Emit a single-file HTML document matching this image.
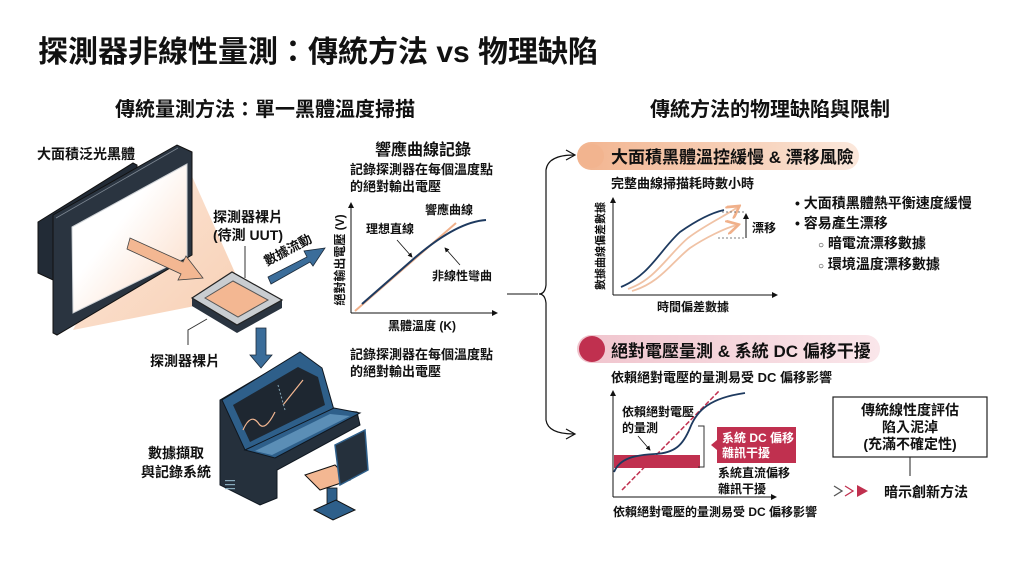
<!DOCTYPE html>
<html><head><meta charset="utf-8"><style>
html,body{margin:0;padding:0;background:#fff;}
body{width:1024px;height:559px;overflow:hidden;}
svg text{font-family:"Liberation Sans","Noto Sans CJK TC",sans-serif;fill:#111;}
</style></head><body>
<svg width="1024" height="559" viewBox="0 0 1024 559" xmlns="http://www.w3.org/2000/svg">
<defs>
<linearGradient id="beam" x1="0" y1="0" x2="1" y2="1">
<stop offset="0" stop-color="#fbe3d2"/><stop offset="1" stop-color="#f6c4a2"/></linearGradient>
<linearGradient id="scr" x1="0" y1="0" x2="1" y2="1">
<stop offset="0.4" stop-color="#ffffff"/><stop offset="1" stop-color="#fbd9c3"/></linearGradient>
<linearGradient id="p1" x1="0" x2="1"><stop offset="0" stop-color="#f2b48f"/><stop offset="0.7" stop-color="#f8d7c2"/><stop offset="1" stop-color="#fbe8dc"/></linearGradient>
<linearGradient id="p2" x1="0" x2="1"><stop offset="0" stop-color="#f0c4cd"/><stop offset="1" stop-color="#fae6ea"/></linearGradient>
<marker id="ahs" markerWidth="6" markerHeight="6" refX="5" refY="3" orient="auto"><path d="M0,0 L6,3 L0,6 z" fill="#111"/></marker>
<marker id="aho" markerWidth="8" markerHeight="8" refX="6" refY="4" orient="auto"><path d="M0,0 L7,4 L0,8" fill="none" stroke="#f0b08a" stroke-width="1.5"/></marker>
</defs>

<text x="38" y="62" font-size="30" font-weight="bold">探測器非線性量測：傳統方法 vs 物理缺陷</text>
<text x="265" y="116" font-size="20" font-weight="bold" text-anchor="middle">傳統量測方法：單一黑體溫度掃描</text>
<text x="770" y="116" font-size="20" font-weight="bold" text-anchor="middle">傳統方法的物理缺陷與限制</text>

<!-- blackbody -->
<text x="37" y="159" font-size="14" font-weight="bold">大面積泛光黑體</text>
<polygon points="150,180 187,165 236,275 200,305 73,330" fill="url(#beam)" opacity="0.8"/>
<polygon points="38,222 133,163 137,165 137,190 53,240 53,280 38,273" fill="#222b36" stroke="#111"/>
<polygon points="53,215 177,145 192,152 192,255 57,335 53,333" fill="#2a3440" stroke="#111" stroke-width="1"/>
<line x1="56" y1="218" x2="178" y2="148" stroke="#7d8792" stroke-width="0.8"/>
<polygon points="72,227 187,164 187,257 73,313" fill="url(#scr)" stroke="#cfd3d7" stroke-width="1"/>
<polygon points="130,238 183,262 186,256 203,278 178,280 181,274 127,249" fill="#f3b792" stroke="#444" stroke-width="0.8"/>
<!-- chip -->
<polygon points="192,298 232,272 282,300 282,308 237,333 192,306" fill="#2a3440"/>
<polygon points="192,298 232,272 282,300 237,325" fill="#c9cdd1" stroke="#222" stroke-width="1.2"/>
<polygon points="205,298 233,281 268,300 238,317" fill="#f3b792" stroke="#555" stroke-width="1"/>
<text x="213" y="222" font-size="14" font-weight="bold">探測器裸片</text>
<text x="213" y="240" font-size="14" font-weight="bold">(待測 UUT)</text>
<line x1="245" y1="246" x2="245" y2="278" stroke="#333" stroke-width="1"/>
<polyline points="188,345 188,330 207,319" fill="none" stroke="#333" stroke-width="1"/>
<text x="150" y="366" font-size="14" font-weight="bold">探測器裸片</text>
<!-- data flow arrow -->
<polygon points="268,277 307,257 304,251 325,248 313,266 310,262 271,284" fill="#3b6d9a" stroke="#1b2a3a" stroke-width="0.8"/>
<text x="0" y="0" font-size="13" font-weight="bold" transform="translate(267,266) rotate(-28)">數據流動</text>
<polygon points="256,328 266,328 266,355 272,355 261,368 250,355 256,355" fill="#3b6d9a" stroke="#1b2a3a" stroke-width="0.8"/>
<!-- console -->
<polygon points="220,400 300,353 322,370 333,410 357,412 360,425 277,470 277,498 260,505 220,485" fill="#25303c" stroke="#0f1720" stroke-width="1"/>
<polygon points="222,400 300,352 322,368 334,410 245,450" fill="#2e5f8a" stroke="#0f1720" stroke-width="1"/>
<polygon points="233,405 298,367 318,377 325,405 250,442" fill="#1e2731"/>
<path d="M243,430 q8,-18 16,-6 q6,8 16,-12" fill="none" stroke="#f3b792" stroke-width="1.2"/>
<path d="M283,405 l20,-25" fill="none" stroke="#f3b792" stroke-width="1.2"/>
<line x1="278" y1="385" x2="285" y2="410" stroke="#8ab" stroke-width="1" stroke-dasharray="2,2"/>
<polygon points="245,450 334,408 360,413 275,458" fill="#2e5f8a" stroke="#0f1720" stroke-width="1"/>
<polygon points="255,451 330,414 350,416 272,455" fill="#6fa3c9" opacity="0.7"/>
<rect x="225" y="480" width="10" height="1.2" fill="#8ab"/><rect x="225" y="484" width="10" height="1.2" fill="#8ab"/><rect x="225" y="488" width="10" height="1.2" fill="#8ab"/>
<polygon points="305,475 335,465 350,480 320,490" fill="#f3b792" stroke="#111" stroke-width="1"/>
<polygon points="335,445 365,430 368,470 340,485" fill="#25303c" stroke="#2e5f8a" stroke-width="1.5"/>
<rect x="327" y="488" width="10" height="22" fill="#2e5f8a" stroke="#111" stroke-width="0.8"/>
<polygon points="314,510 336,500 355,510 333,520" fill="#2e5f8a" stroke="#111" stroke-width="1"/>
<text x="176" y="458" font-size="14" font-weight="bold" text-anchor="middle">數據擷取</text>
<text x="176" y="477" font-size="14" font-weight="bold" text-anchor="middle">與記錄系統</text>

<!-- response graph -->
<text x="423" y="155" font-size="16" font-weight="bold" text-anchor="middle">響應曲線記錄</text>
<text x="350" y="174" font-size="13" font-weight="bold">記錄探測器在每個溫度點</text>
<text x="350" y="191" font-size="13" font-weight="bold">的絕對輸出電壓</text>
<line x1="351" y1="313" x2="351" y2="203" stroke="#111" stroke-width="1" marker-end="url(#ahs)"/>
<line x1="351" y1="313" x2="497" y2="313" stroke="#111" stroke-width="1" marker-end="url(#ahs)"/>
<line x1="355" y1="311" x2="456" y2="223" stroke="#f0b08a" stroke-width="2"/>
<path d="M362,304 L410,262 Q455,222 486,220" fill="none" stroke="#1e3a5f" stroke-width="2"/>
<text x="425" y="214" font-size="12" font-weight="bold">響應曲線</text>
<text x="366" y="233" font-size="12" font-weight="bold">理想直線</text>
<line x1="397" y1="240" x2="412" y2="257" stroke="#111" stroke-width="0.8" marker-end="url(#ahs)"/>
<text x="432" y="280" font-size="12" font-weight="bold">非線性彎曲</text>
<line x1="460" y1="265" x2="445" y2="248" stroke="#111" stroke-width="0.8" marker-end="url(#ahs)"/>
<text x="0" y="0" font-size="12" font-weight="bold" text-anchor="middle" transform="translate(344,260) rotate(-90)">絕對輸出電壓 (V)</text>
<text x="422" y="330" font-size="12" font-weight="bold" text-anchor="middle">黑體溫度 (K)</text>
<text x="350" y="359" font-size="13" font-weight="bold">記錄探測器在每個溫度點</text>
<text x="350" y="376" font-size="13" font-weight="bold">的絕對輸出電壓</text>

<!-- brace -->
<line x1="507" y1="294" x2="538" y2="294" stroke="#111" stroke-width="1"/>
<path d="M574,155 Q548,155 546,170 L546,285 Q545,294 539,294 Q545,294 546,303 L546,420 Q548,434 574,434" fill="none" stroke="#111" stroke-width="1.2"/>
<path d="M566,150 L575,155 L566,160" fill="none" stroke="#111" stroke-width="1.2"/>
<path d="M566,429 L575,434 L566,439" fill="none" stroke="#111" stroke-width="1.2"/>

<!-- pill 1 -->
<rect x="577" y="142" width="282" height="28" rx="14" fill="url(#p1)"/>
<circle cx="592" cy="156" r="12" fill="#f2b48f"/>
<text x="611" y="163" font-size="17" font-weight="bold">大面積黑體溫控緩慢 &amp; 漂移風險</text>
<text x="611" y="188" font-size="13" font-weight="bold">完整曲線掃描耗時數小時</text>
<line x1="613" y1="295" x2="613" y2="198" stroke="#111" stroke-width="1" marker-end="url(#ahs)"/>
<line x1="613" y1="295" x2="777" y2="295" stroke="#111" stroke-width="1" marker-end="url(#ahs)"/>
<path d="M621,287 C650,275 660,250 680,232 C700,218 715,212 724,210" fill="none" stroke="#1e3a5f" stroke-width="1.8"/>
<path d="M628,289 C655,280 668,255 688,238 C705,225 725,216 738,207" fill="none" stroke="#f0c2a5" stroke-width="1.8" marker-end="url(#aho)"/>
<path d="M632,291 C660,283 672,262 690,248 C705,238 725,228 737,225" fill="none" stroke="#f0c2a5" stroke-width="1.8" marker-end="url(#aho)"/>
<line x1="722" y1="212" x2="746" y2="212" stroke="#555" stroke-width="0.8" stroke-dasharray="2,2"/>
<line x1="718" y1="238" x2="746" y2="238" stroke="#555" stroke-width="0.8" stroke-dasharray="2,2"/>
<line x1="746" y1="238" x2="746" y2="214" stroke="#111" stroke-width="1" marker-end="url(#ahs)"/>
<text x="752" y="232" font-size="12" font-weight="bold">漂移</text>
<text x="0" y="0" font-size="11" font-weight="bold" text-anchor="middle" transform="translate(604,246) rotate(-90)">數據曲線偏差數據</text>
<text x="693" y="311" font-size="12" font-weight="bold" text-anchor="middle">時間偏差數據</text>
<text x="795" y="208" font-size="14" font-weight="bold">• 大面積黑體熱平衡速度緩慢</text>
<text x="795" y="228" font-size="14" font-weight="bold">• 容易產生漂移</text>
<text x="818" y="248" font-size="14" font-weight="bold"><tspan font-size="10">○</tspan> 暗電流漂移數據</text>
<text x="818" y="269" font-size="14" font-weight="bold"><tspan font-size="10">○</tspan> 環境溫度漂移數據</text>

<!-- pill 2 -->
<rect x="577" y="335" width="303" height="28" rx="14" fill="url(#p2)"/>
<circle cx="592" cy="349" r="13" fill="#c0304f"/>
<text x="611" y="357" font-size="17" font-weight="bold">絕對電壓量測 &amp; 系統 DC 偏移干擾</text>
<text x="611" y="382" font-size="13" font-weight="bold">依賴絕對電壓的量測易受 DC 偏移影響</text>
<line x1="613" y1="497" x2="613" y2="391" stroke="#111" stroke-width="1" marker-end="url(#ahs)"/>
<line x1="613" y1="497" x2="776" y2="497" stroke="#111" stroke-width="1" marker-end="url(#ahs)"/>
<rect x="614" y="455" width="86" height="13" fill="#c0304f"/>
<line x1="622" y1="490" x2="720" y2="390" stroke="#c0304f" stroke-width="1.5" stroke-dasharray="5,2"/>
<path d="M614,472 C620,458 635,455 655,454 C675,453 683,445 690,428 C697,410 710,398 745,393" fill="none" stroke="#1e3a5f" stroke-width="1.8"/>
<polyline points="698,426 704,426 704,467 698,467" fill="none" stroke="#333" stroke-width="1"/>
<text x="622" y="416" font-size="12" font-weight="bold">依賴絕對電壓</text>
<text x="622" y="432" font-size="12" font-weight="bold">的量測</text>
<line x1="638" y1="436" x2="650" y2="450" stroke="#111" stroke-width="0.8" marker-end="url(#ahs)"/>
<polygon points="717,427 796,427 796,463 717,463 717,450 711,445 717,440" fill="#c0304f"/>
<text x="722" y="442" font-size="12" font-weight="bold" style="fill:#fff">系統 DC 偏移</text>
<text x="722" y="457" font-size="12" font-weight="bold" style="fill:#fff">雜訊干擾</text>
<text x="718" y="477" font-size="12" font-weight="bold">系統直流偏移</text>
<text x="718" y="493" font-size="12" font-weight="bold">雜訊干擾</text>
<text x="613" y="516" font-size="12" font-weight="bold">依賴絕對電壓的量測易受 DC 偏移影響</text>

<rect x="833" y="397" width="154" height="60" fill="#fff" stroke="#222" stroke-width="1.2"/>
<text x="910" y="415" font-size="14" font-weight="bold" text-anchor="middle">傳統線性度評估</text>
<text x="910" y="432" font-size="14" font-weight="bold" text-anchor="middle">陷入泥淖</text>
<text x="910" y="449" font-size="14" font-weight="bold" text-anchor="middle">(充滿不確定性)</text>
<line x1="910" y1="457" x2="910" y2="476" stroke="#222" stroke-width="1"/>
<path d="M834,486 L842,491 L834,496" fill="none" stroke="#555" stroke-width="1.3"/>
<path d="M845,486 L853,491 L845,496" fill="none" stroke="#c0304f" stroke-width="1.3"/>
<polygon points="857,485 868,491 857,497" fill="#c0304f"/>
<text x="884" y="497" font-size="14" font-weight="bold">暗示創新方法</text>
</svg>
</body></html>
